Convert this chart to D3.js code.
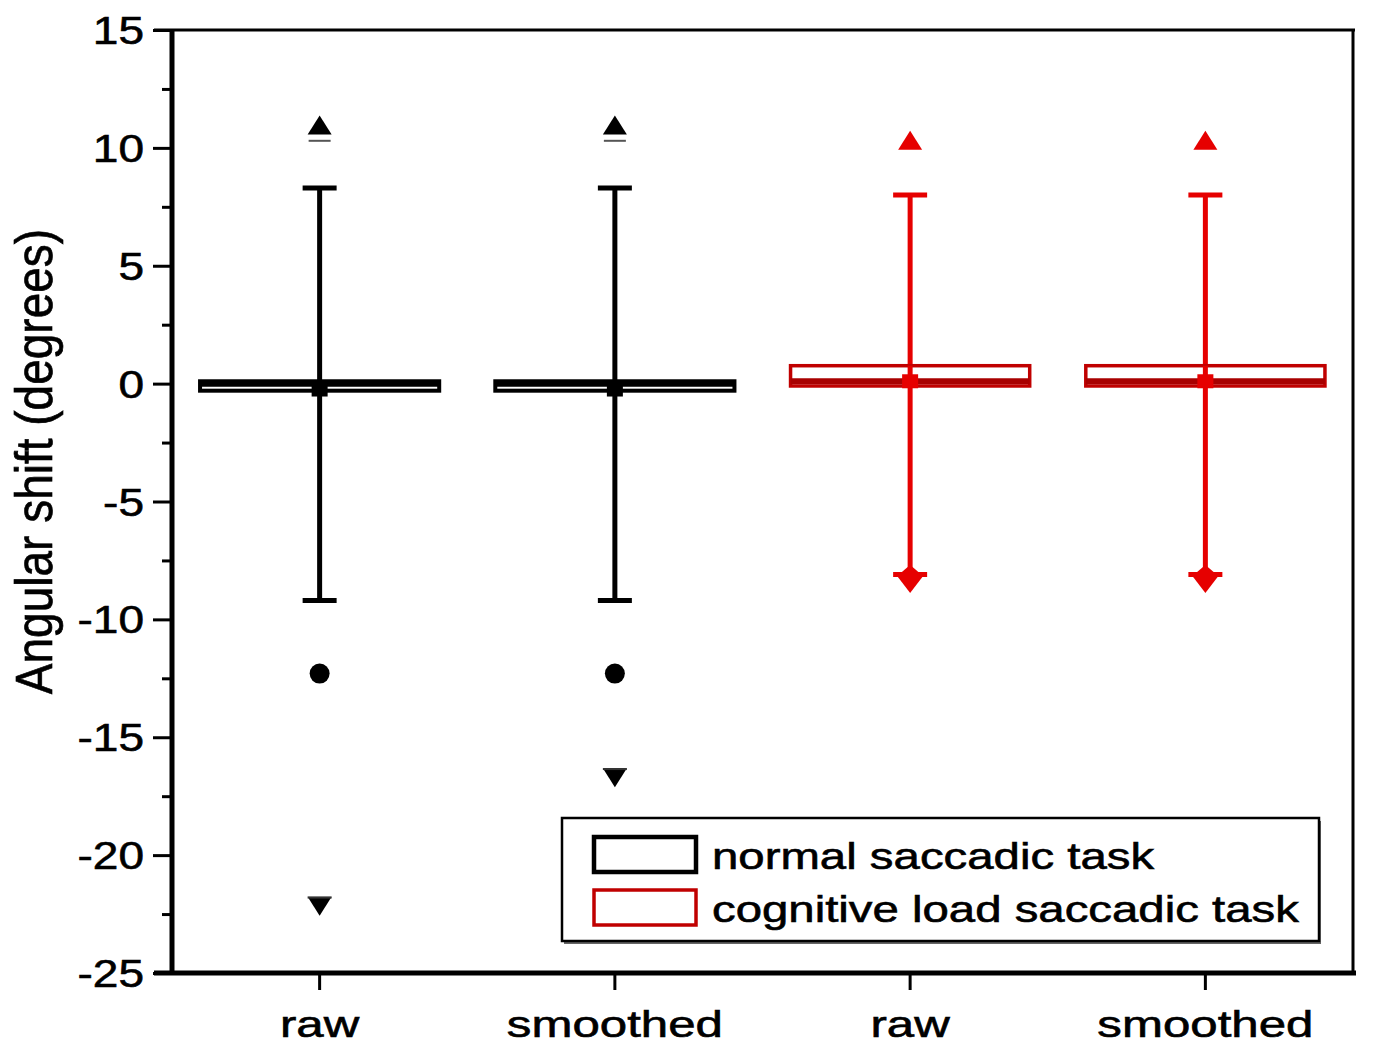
<!DOCTYPE html>
<html><head><meta charset="utf-8">
<script src="https://cdn.jsdelivr.net/npm/d3@7"></script>
<style>body{margin:0;background:#fff} text{stroke:#000;stroke-width:0.6px}</style>
</head><body>
<svg id="c" width="1374" height="1049"></svg>
<script>
// ---- data ----
const categories = ["raw", "smoothed", "raw", "smoothed"];
const seriesNames = ["normal saccadic task", "cognitive load saccadic task"];
const seriesOf = [0, 0, 1, 1];
const q1 = [-0.3, -0.3, -0.1, -0.1];
const median = [-0.05, -0.05, 0.1, 0.1];
const q3 = [0.1, 0.1, 0.76, 0.76];
const meanVals = [-0.25, -0.25, 0.1, 0.1];
const whiskerLow = [-9.2, -9.2, -8.1, -8.1];
const whiskerHigh = [8.3, 8.3, 8.0, 8.0];
const maxVals = [10.95, 10.95, 10.3, 10.3];
const maxDash = [10.3, 10.3, null, null];
const outlierLow = [-12.3, -12.3, null, null];
const minVals = [-22.15, -16.7, -8.25, -8.25];
const minDash = [-21.8, -16.35, null, null];
const yTicks = [-25, -20, -15, -10, -5, 0, 5, 10, 15];
const yMinor = [-22.5, -17.5, -12.5, -7.5, -2.5, 2.5, 7.5, 12.5];
const yTitle = "Angular shift (degrees)";

// ---- layout ----
const svg = d3.select("#c");
const L = 172, R = 1353, T = 30, B = 973;
const colors = ["#000000", "#e60000"];
const strokeCol = ["#000000", "#c00000"];
const y = d3.scaleLinear().domain([-25, 15]).range([B, T]);
const keys = categories.map((c, i) => i);
const x = d3.scaleBand().domain(keys).range([L, R]).paddingInner(0).paddingOuter(0);
const cx = i => x(i) + x.bandwidth() / 2;
const boxW = x.bandwidth() * 0.81;
const capW = 34;

// frame
svg.append("line").attr("x1", L - 18).attr("x2", R + 2).attr("y1", T).attr("y2", T)
  .attr("stroke", "#000").attr("stroke-width", 3);
svg.append("line").attr("x1", R).attr("x2", R).attr("y1", T).attr("y2", B)
  .attr("stroke", "#000").attr("stroke-width", 3);

// y axis
const yAxis = svg.append("g").attr("transform", `translate(${L},0)`)
  .call(d3.axisLeft(y).tickValues(yTicks).tickSize(19).tickFormat(() => ""));
yAxis.select(".domain").attr("stroke-width", 5).attr("d", `M0,${T}V${B + 2}`);
yAxis.selectAll(".tick line").attr("stroke-width", 3);
svg.append("g").attr("transform", `translate(${L},0)`)
  .call(d3.axisLeft(y).tickValues(yMinor).tickSize(10).tickFormat(() => ""))
  .call(g => g.select(".domain").remove())
  .selectAll(".tick line").attr("stroke-width", 3);
// y tick labels (horizontally stretched like the original)
svg.append("g").selectAll("text").data(yTicks).join("text")
  .attr("transform", d => `translate(${L - 28},${y(d)}) scale(1.18,1)`)
  .attr("text-anchor", "end").attr("dy", "0.36em")
  .attr("font-family", "Liberation Sans, Arial, sans-serif").attr("font-size", 39)
  .attr("fill", "#000").text(d => d);

// x axis
const xAxis = svg.append("g").attr("transform", `translate(0,${B})`)
  .call(d3.axisBottom(x).tickSize(17).tickFormat(() => ""));
xAxis.select(".domain").attr("stroke-width", 5).attr("d", `M${L - 18},0H${R + 3}`);
xAxis.selectAll(".tick line").attr("stroke-width", 3);
svg.append("g").selectAll("text").data(keys).join("text")
  .attr("transform", i => `translate(${cx(i)},${B + 64}) scale(1.33,1)`)
  .attr("text-anchor", "middle")
  .attr("font-family", "Liberation Sans, Arial, sans-serif").attr("font-size", 37)
  .attr("fill", "#000").text(i => categories[i]);

// y title
svg.append("text")
  .attr("transform", `translate(52,${(T + B) / 2 - 40}) rotate(-90) scale(1,1.12)`)
  .attr("text-anchor", "middle")
  .attr("font-family", "Liberation Sans, Arial, sans-serif").attr("font-size", 46)
  .attr("fill", "#000").text(yTitle);

// ---- boxes ----
const g = svg.append("g");
keys.forEach(i => {
  const s = seriesOf[i];
  const col = colors[s], sc = strokeCol[s];
  const c = cx(i);
  // whisker
  g.append("line").attr("x1", c).attr("x2", c).attr("y1", y(whiskerHigh[i])).attr("y2", y(whiskerLow[i]))
    .attr("stroke", col).attr("stroke-width", 5);
  [whiskerHigh[i], whiskerLow[i]].forEach(v => {
    g.append("line").attr("x1", c - capW / 2).attr("x2", c + capW / 2).attr("y1", y(v)).attr("y2", y(v))
      .attr("stroke", col).attr("stroke-width", 5);
  });
  // box
  g.append("rect").attr("x", c - boxW / 2).attr("width", boxW)
    .attr("y", y(q3[i])).attr("height", y(q1[i]) - y(q3[i]))
    .attr("fill", "#fff").attr("stroke", sc).attr("stroke-width", s === 0 ? 4 : 3.5);
  g.append("line").attr("x1", c - boxW / 2).attr("x2", c + boxW / 2)
    .attr("y1", y(median[i])).attr("y2", y(median[i]))
    .attr("stroke", s === 0 ? "#000" : "#a80000").attr("stroke-width", s === 0 ? 4 : 6);
  g.append("line").attr("x1", c).attr("x2", c).attr("y1", y(q3[i])).attr("y2", y(median[i]))
    .attr("stroke", col).attr("stroke-width", 5);
  // mean square
  g.append("rect").attr("x", c - 8).attr("y", y(meanVals[i]) - 7).attr("width", 16).attr("height", 14)
    .attr("fill", col);
  // max triangle
  const ym = y(maxVals[i]);
  g.append("path").attr("d", `M${c},${ym - 10}L${c + 12},${ym + 9}L${c - 12},${ym + 9}Z`).attr("fill", col);
  if (maxDash[i] !== null) {
    g.append("line").attr("x1", c - 11).attr("x2", c + 11).attr("y1", y(maxDash[i])).attr("y2", y(maxDash[i]))
      .attr("stroke", "#555").attr("stroke-width", 2);
  }
  // low outlier circle
  if (outlierLow[i] !== null) {
    g.append("circle").attr("cx", c).attr("cy", y(outlierLow[i])).attr("r", 10).attr("fill", col);
  }
  // min marker
  const yn = y(minVals[i]);
  if (s === 0) {
    g.append("path").attr("d", `M${c - 12},${yn - 9}L${c + 12},${yn - 9}L${c},${yn + 10}Z`).attr("fill", col);
    if (minDash[i] !== null) {
      g.append("line").attr("x1", c - 12).attr("x2", c + 12).attr("y1", y(minDash[i])).attr("y2", y(minDash[i]))
        .attr("stroke", "#333").attr("stroke-width", 2);
    }
  } else {
    g.append("path").attr("d", `M${c},${yn - 13}L${c + 13},${yn - 2}L${c},${yn + 15}L${c - 13},${yn - 2}Z`)
      .attr("fill", col);
  }
});

// ---- legend ----
const lg = svg.append("g");
lg.append("rect").attr("x", 564).attr("y", 821).attr("width", 757).attr("height", 123).attr("fill", "#666");
lg.append("rect").attr("x", 562).attr("y", 818).attr("width", 757).attr("height", 123)
  .attr("fill", "#fff").attr("stroke", "#000").attr("stroke-width", 2.5);
seriesNames.forEach((name, k) => {
  const yy = 837 + k * 53;
  lg.append("rect").attr("x", 594).attr("y", yy).attr("width", 102).attr("height", 35)
    .attr("fill", "#fff").attr("stroke", strokeCol[k]).attr("stroke-width", k === 0 ? 4.5 : 3.5);
  lg.append("text").attr("transform", `translate(712,${yy + 32}) scale(1.28,1)`)
    .attr("font-family", "Liberation Sans, Arial, sans-serif").attr("font-size", 37)
    .attr("fill", "#000").text(name);
});
</script>
</body></html>
